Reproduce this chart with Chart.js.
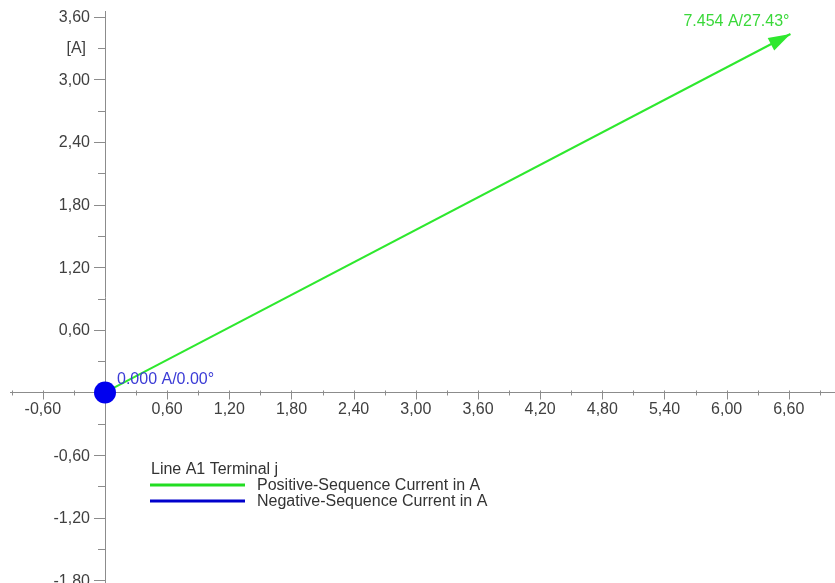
<!DOCTYPE html>
<html>
<head>
<meta charset="utf-8">
<script src="https://cdn.jsdelivr.net/npm/chart.js@4.4.0/dist/chart.umd.min.js"></script>
<style>
  html, body { margin: 0; padding: 0; background: #fff; }
  #wrap { width: 835px; height: 583px; }
</style>
</head>
<body>
<div id="wrap"><canvas id="phasorChart" width="835" height="583"></canvas></div>
<script>
// Phasors: magnitude in A, angle in degrees
const phasorNames = ['Positive-Sequence Current in A', 'Negative-Sequence Current in A'];
const magnitudes = [7.454, 0.000];
const anglesDeg = [27.43, 0.00];
const legendTitle = 'Line A1 Terminal j';

// Axis ticks
const xMajorTicks = [-0.6, 0.6, 1.2, 1.8, 2.4, 3.0, 3.6, 4.2, 4.8, 5.4, 6.0, 6.6];
const xMinorTicks = [-0.9, -0.3, 0.3, 0.9, 1.5, 2.1, 2.7, 3.3, 3.9, 4.5, 5.1, 5.7, 6.3, 6.9];
const yMajorTicks = [-1.8, -1.2, -0.6, 0.6, 1.2, 1.8, 2.4, 3.0, 3.6];
const yMinorTicks = [-1.5, -0.9, -0.3, 0.3, 0.9, 1.5, 2.1, 2.7, 3.3];
const yUnitTick = 3.3;   // "[A]" is written at this tick
const yUnitLabel = '[A]';

// Look
const lineColors = ['#2ee82e', '#0000ee'];
const textColors = ['#3ad83a', '#3b3bd6'];
const legendColors = ['#22dd22', '#0000cc'];
const axisColor = '#8c8c8c';
const labelColor = '#404040';
const FONT = '"Liberation Sans", Arial, sans-serif';

function toXY(i) {
  const rad = anglesDeg[i] * Math.PI / 180;
  return { x: magnitudes[i] * Math.cos(rad), y: magnitudes[i] * Math.sin(rad) };
}

function fmt(v) {
  return v.toFixed(2).replace('.', ',');
}

function phasorText(i) {
  return magnitudes[i].toFixed(3) + ' A/' + anglesDeg[i].toFixed(2) + '\u00b0';
}

// tick marks on both axes + y labels (chart.js ignores padding for value-positioned y axes)
const axisDecor = {
  id: 'axisDecor',
  beforeDatasetsDraw(chart) {
    const { ctx, scales: { x, y } } = chart;
    const x0 = x.getPixelForValue(0);
    const y0 = y.getPixelForValue(0);
    ctx.save();
    ctx.strokeStyle = axisColor;
    ctx.lineWidth = 1;
    ctx.beginPath();
    xMajorTicks.forEach(v => {
      const px = Math.round(x.getPixelForValue(v)) + 0.5;
      ctx.moveTo(px, y0 - 2); ctx.lineTo(px, y0 + 7);
    });
    xMinorTicks.forEach(v => {
      const px = Math.round(x.getPixelForValue(v)) + 0.5;
      ctx.moveTo(px, y0 - 2); ctx.lineTo(px, y0 + 3);
    });
    yMajorTicks.forEach(v => {
      const py = Math.round(y.getPixelForValue(v)) + 0.5;
      ctx.moveTo(x0 - 11, py); ctx.lineTo(x0, py);
    });
    yMinorTicks.forEach(v => {
      const py = Math.round(y.getPixelForValue(v)) + 0.5;
      ctx.moveTo(x0 - 7, py); ctx.lineTo(x0, py);
    });
    ctx.stroke();

    ctx.font = '16px ' + FONT;
    ctx.fillStyle = labelColor;
    ctx.textAlign = 'right';
    ctx.textBaseline = 'middle';
    yMajorTicks.forEach(v => {
      ctx.fillText(fmt(v), x0 - 15, y.getPixelForValue(v) + 1);
    });
    ctx.fillText(yUnitLabel, x0 - 19, y.getPixelForValue(yUnitTick) + 1);
    ctx.restore();
  }
};

// arrow heads and value labels
const phasorDecor = {
  id: 'phasorDecor',
  afterDatasetsDraw(chart) {
    const { ctx, scales: { x, y } } = chart;
    const x0 = x.getPixelForValue(0);
    const y0 = y.getPixelForValue(0);
    ctx.save();
    ctx.font = '16px ' + FONT;
    phasorNames.forEach((name, i) => {
      const tip = toXY(i);
      const px = x.getPixelForValue(tip.x);
      const py = y.getPixelForValue(tip.y);
      if (magnitudes[i] > 0) {
        const a = Math.atan2(py - y0, px - x0);
        const len = 22, half = 7;
        const bx = px - len * Math.cos(a), by = py - len * Math.sin(a);
        ctx.beginPath();
        ctx.moveTo(px, py);
        ctx.lineTo(bx + half * Math.sin(a), by - half * Math.cos(a));
        ctx.lineTo(bx - half * Math.sin(a), by + half * Math.cos(a));
        ctx.closePath();
        ctx.fillStyle = lineColors[i];
        ctx.fill();
        ctx.fillStyle = textColors[i];
        ctx.textAlign = 'right';
        ctx.textBaseline = 'alphabetic';
        ctx.fillText(phasorText(i), px - 1, py - 8);
      } else {
        ctx.fillStyle = textColors[i];
        ctx.textAlign = 'left';
        ctx.textBaseline = 'alphabetic';
        ctx.fillText(phasorText(i), x0 + 12, y0 - 8);
      }
    });
    ctx.restore();
  }
};

// legend block below the x axis
const phasorLegend = {
  id: 'phasorLegend',
  afterDraw(chart) {
    const { ctx } = chart;
    ctx.save();
    ctx.font = '16px ' + FONT;
    ctx.textBaseline = 'middle';
    ctx.textAlign = 'left';
    ctx.fillStyle = '#333';
    ctx.fillText(legendTitle, 151, 470);
    phasorNames.forEach((name, i) => {
      const ly = 485 + i * 16;
      ctx.strokeStyle = legendColors[i];
      ctx.lineWidth = 3;
      ctx.beginPath();
      ctx.moveTo(150, ly); ctx.lineTo(245, ly);
      ctx.stroke();
      ctx.fillStyle = '#333';
      ctx.fillText(name, 257, ly + 1);
    });
    ctx.restore();
  }
};

const datasets = phasorNames.map((name, i) => ({
  label: name,
  data: [{ x: 0, y: 0 }, toXY(i)],
  showLine: true,
  borderColor: lineColors[i],
  backgroundColor: lineColors[i],
  borderWidth: 2,
  pointRadius: magnitudes[i] === 0 ? [11, 0] : 0,
  pointBorderWidth: 0,
  order: magnitudes[i] === 0 ? 0 : 1,
}));

const noPadding = s => { s.paddingLeft = 0; s.paddingRight = 0; s.paddingTop = 0; s.paddingBottom = 0; };

new Chart(document.getElementById('phasorChart'), {
  type: 'scatter',
  data: { datasets },
  options: {
    responsive: false,
    animation: false,
    events: [],
    layout: { autoPadding: false, padding: { left: 10, top: 11, right: 0, bottom: 0 } },
    plugins: { legend: { display: false }, tooltip: { enabled: false } },
    scales: {
      x: {
        type: 'linear',
        min: -0.917,
        max: 7.046,
        position: { y: 0 },
        afterBuildTicks: s => { s.ticks = xMajorTicks.map(v => ({ value: v })); },
        afterFit: noPadding,
        grid: { display: false, drawTicks: false },
        border: { display: true, color: axisColor, width: 1 },
        ticks: {
          autoSkip: false, maxRotation: 0, padding: 8,
          color: labelColor, font: { family: FONT, size: 16 },
          callback: v => fmt(v),
        },
      },
      y: {
        type: 'linear',
        min: -1.825,
        max: 3.654,
        position: { x: 0 },
        afterBuildTicks: s => { s.ticks = yMajorTicks.map(v => ({ value: v })); },
        afterFit: noPadding,
        grid: { display: false, drawTicks: false },
        border: { display: true, color: axisColor, width: 1 },
        ticks: { display: false },
      },
    },
  },
  plugins: [axisDecor, phasorDecor, phasorLegend],
});
</script>
</body>
</html>
